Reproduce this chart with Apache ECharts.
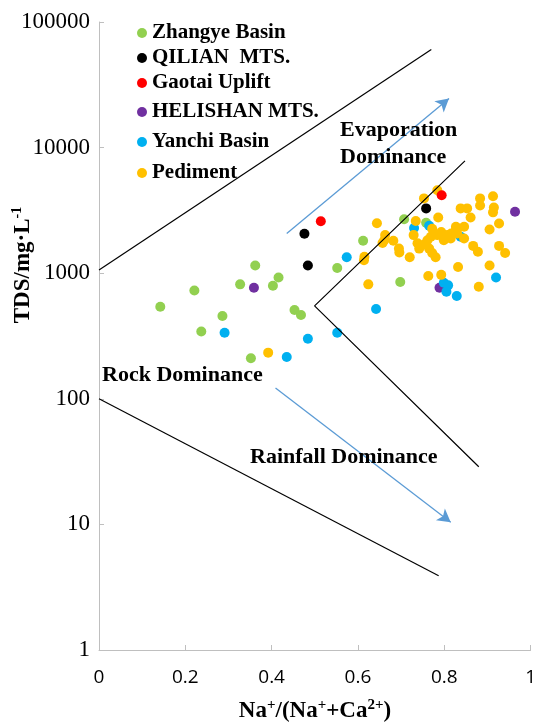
<!DOCTYPE html>
<html>
<head>
<meta charset="utf-8">
<script src="https://cdn.jsdelivr.net/npm/echarts@6/dist/echarts.min.js"></script>
<style>
html,body{margin:0;padding:0;background:#fff;}
#chart{width:539px;height:723px;}
</style>
</head>
<body>
<div id="chart"></div>
<script>
// ---- Data ----
const xTicks = [0, 0.2, 0.4, 0.6, 0.8, 1];
const yTicks = [1, 10, 100, 1000, 10000, 100000];

const zhangye = [[0.142,541],[0.221,728],[0.237,343],[0.286,456],[0.327,815],[0.352,210],[0.362,1150],[0.403,795],[0.416,925],[0.453,509],[0.468,465],[0.552,1100],[0.612,1810],[0.698,850],[0.707,2690],[0.758,2520]];
const qilian = [[0.476,2060],[0.484,1150],[0.758,3280]];
const gaotai = [[0.514,2590],[0.794,4170]];
const helishan = [[0.359,765],[0.789,765],[0.964,3080]];
const yanchi = [[0.291,336],[0.435,215],[0.484,301],[0.552,336],[0.574,1340],[0.642,518],[0.730,2290],[0.765,2390],[0.799,840],[0.809,800],[0.805,712],[0.829,658],[0.920,925],[0.838,1950]];
const pediment = [[0.392,233],[0.615,1350],[0.614,1270],[0.624,815],[0.644,2500],[0.663,2010],[0.657,1740],[0.661,1830],[0.682,1810],[0.695,1570],[0.696,1460],[0.720,1340],[0.729,2010],[0.734,2600],[0.738,1730],[0.742,1570],[0.753,3940],[0.753,1690],[0.761,1830],[0.765,1570],[0.769,1950],[0.772,1450],[0.772,2260],[0.780,1340],[0.784,4580],[0.786,2780],[0.784,2010],[0.793,2130],[0.799,1830],[0.807,2010],[0.815,1890],[0.816,2070],[0.827,2200],[0.827,2340],[0.830,2070],[0.846,2340],[0.846,1890],[0.763,950],[0.793,970],[0.832,1120],[0.838,3280],[0.853,3280],[0.861,2780],[0.867,1650],[0.878,1480],[0.880,780],[0.883,3940],[0.883,3460],[0.905,2230],[0.905,1150],[0.913,4100],[0.915,3330],[0.913,3050],[0.927,2490],[0.927,1650],[0.941,1450]];

const upperBoundary = [[0,1060],[0.770,60300]];
const lowerBoundary = [[0,100],[0.787,3.9]];
const rightBoundary = [[0.848,7840],[0.4995,550],[0.880,28.8]];
const evapArrow = [[0.435,2070],[0.811,24600]];
const rainArrow = [[0.409,122],[0.815,10.4]];

const seriesNames = ['Zhangye Basin','QILIAN  MTS.','Gaotai Uplift','HELISHAN MTS.','Yanchi Basin','Pediment'];
const seriesColors = ['#92D050','#000000','#FF0000','#7030A0','#00B0F0','#FFC000'];
const seriesData = [zhangye, qilian, gaotai, helishan, yanchi, pediment];
const legendRows = [33, 58, 83, 112, 142, 173];
const drawOrder = [0, 3, 4, 5, 1, 2];

const serif = 'Liberation Serif, Times New Roman, serif';
const chart = echarts.init(document.getElementById('chart'));

const scatterSeries = drawOrder.map(i => ({
  name: seriesNames[i],
  type: 'scatter',
  data: seriesData[i],
  symbol: 'circle',
  symbolSize: 10,
  itemStyle: {color: seriesColors[i], opacity: 1},
  z: 2
}));

function lineSeries(data) {
  return {type:'line', data, symbol:'none', silent:true, z:4,
    lineStyle:{color:'#000', width:1.2}};
}
function arrowSeries(pts) {
  return {type:'line', data:[], symbol:'none', silent:true, z:4,
    markLine:{silent:true, symbol:['none','arrow'], symbolSize:[11,13],
      label:{show:false},
      lineStyle:{color:'#5B9BD5', width:1.3, type:'solid'},
      data:[[{coord:pts[0]},{coord:pts[1]}]]}};
}

const legends = seriesNames.map((n, i) => ({
  data:[n], orient:'vertical', left:137, top:legendRows[i]-11, padding:0,
  itemWidth:10, itemHeight:10, icon:'circle', itemGap:0,
  textStyle:{fontFamily:serif, fontWeight:'bold', fontSize:21, color:'#000', lineHeight:22}
}));

const option = {
  backgroundColor:'#fff',
  animation:false,
  legend: legends,
  grid:{left:99, right:7, top:22, bottom:73},
  xAxis:{
    type:'value', min:xTicks[0], max:xTicks[xTicks.length-1], interval:0.2,
    axisLine:{show:true, lineStyle:{color:'#BFBFBF', width:1}},
    axisTick:{show:true, inside:true, length:5, lineStyle:{color:'#BFBFBF'}},
    splitLine:{show:false},
    axisLabel:{margin:18, fontFamily:'Open Sans', fontSize:19, color:'#000',
      formatter: v => String(+v.toFixed(1))}
  },
  yAxis:{
    type:'log', logBase:10, min:yTicks[0], max:yTicks[yTicks.length-1],
    axisLine:{show:true, lineStyle:{color:'#BFBFBF', width:1}},
    axisTick:{show:true, inside:true, length:5, lineStyle:{color:'#BFBFBF'}},
    splitLine:{show:false},
    axisLabel:{margin:9, fontFamily:serif, fontSize:23, color:'#000',
      formatter: v => String(Math.round(v))}
  },
  series: [
    ...scatterSeries,
    lineSeries(upperBoundary),
    lineSeries(lowerBoundary),
    lineSeries(rightBoundary),
    arrowSeries(evapArrow),
    arrowSeries(rainArrow)
  ],
  graphic:[
    {type:'text', x:23, y:265, rotation:Math.PI/2, z:10,
      style:{text:'{a|TDS/mg·L}{s|-1}', align:'center', verticalAlign:'middle',
        rich:{a:{fontFamily:serif, fontWeight:'bold', fontSize:23, lineHeight:26, fill:'#000'},
              s:{fontFamily:serif, fontWeight:'bold', fontSize:14, lineHeight:14, verticalAlign:'top', fill:'#000'}}}},
    {type:'text', x:315, y:711, z:10,
      style:{text:'{a|Na}{s|+}{a|/(Na}{s|+}{a|+Ca}{s|2+}{a|)}', align:'center', verticalAlign:'middle',
        rich:{a:{fontFamily:serif, fontWeight:'bold', fontSize:23, lineHeight:26, fill:'#000'},
              s:{fontFamily:serif, fontWeight:'bold', fontSize:15, lineHeight:15, verticalAlign:'top', fill:'#000'}}}},
    {type:'text', x:340, y:130, z:10,
      style:{text:'Evaporation', fontFamily:serif, fontWeight:'bold', fontSize:22, fill:'#000', verticalAlign:'middle'}},
    {type:'text', x:340, y:157, z:10,
      style:{text:'Dominance', fontFamily:serif, fontWeight:'bold', fontSize:22, fill:'#000', verticalAlign:'middle'}},
    {type:'text', x:102, y:375, z:10,
      style:{text:'Rock Dominance', fontFamily:serif, fontWeight:'bold', fontSize:22, fill:'#000', verticalAlign:'middle'}},
    {type:'text', x:250, y:457, z:10,
      style:{text:'Rainfall Dominance', fontFamily:serif, fontWeight:'bold', fontSize:22, fill:'#000', verticalAlign:'middle'}}
  ]
};
chart.setOption(option);
</script>
</body>
</html>
